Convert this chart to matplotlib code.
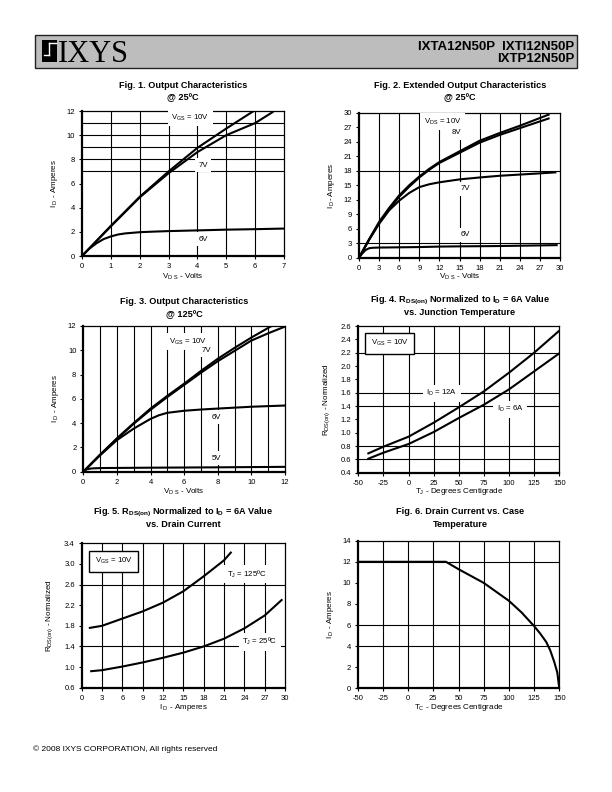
import numpy as np
import matplotlib
matplotlib.use("Agg")
import matplotlib.pyplot as plt
from matplotlib.patches import Rectangle
from matplotlib.lines import Line2D

plt.rcParams['font.family'] = ['Liberation Sans', 'DejaVu Sans']
plt.rcParams['mathtext.fontset'] = 'custom'
plt.rcParams['mathtext.rm'] = 'Liberation Sans'
plt.rcParams['mathtext.it'] = 'Liberation Sans'
plt.rcParams['mathtext.bf'] = 'Liberation Sans:bold'
plt.rcParams['mathtext.default'] = 'regular'
plt.rcParams['axes.unicode_minus'] = False

# ---- Fig 1: output characteristics @ 25C
f1_vds_10v = [0, 1, 2, 3, 4, 5, 5.95]
f1_id_10v = [0, 2.5, 4.9, 7.0, 8.95, 10.55, 12.0]
f1_vds_7v = [0, 1, 2, 3, 4, 5, 6, 6.6]
f1_id_7v = [0, 2.45, 4.85, 6.85, 8.6, 10.0, 11.0, 11.9]
f1_vds_6v = [0, 0.25, 0.5, 0.75, 1, 1.25, 1.5, 2, 2.5, 3, 4, 5, 6, 7]
f1_id_6v = [0, 0.6, 1.05, 1.4, 1.62, 1.78, 1.87, 1.97, 2.02, 2.06, 2.12, 2.18, 2.22, 2.27]

# ---- Fig 2: extended output characteristics @ 25C
f2_vds = [0, 1.5, 3, 4.5, 6, 7.5, 9, 10.5, 12, 15, 18, 21, 24, 27, 28.3]
f2_id_10v = [0, 3.8, 7.4, 10.3, 12.9, 15.0, 16.8, 18.4, 19.8, 22.0, 24.2, 25.8, 27.3, 28.9, 29.6]
f2_id_8v = [0, 3.7, 7.2, 10.1, 12.6, 14.7, 16.6, 18.2, 19.6, 21.7, 23.8, 25.4, 26.8, 28.2, 28.8]
f2_vds_7v = [0, 1.5, 3, 4.5, 6, 7.5, 9, 10.5, 12, 15, 18, 21, 24, 27, 29.3]
f2_id_7v = [0, 3.7, 7.0, 9.8, 11.8, 13.4, 14.6, 15.2, 15.6, 16.2, 16.6, 16.95, 17.2, 17.45, 17.65]
f2_vds_6v = [0, 0.5, 1, 1.5, 2, 3, 6, 9, 12, 15, 20, 25, 29.5]
f2_id_6v = [0, 0.9, 1.6, 1.95, 2.05, 2.1, 2.15, 2.2, 2.3, 2.35, 2.4, 2.5, 2.6]

# ---- Fig 3: output characteristics @ 125C
f3_vds_10v = [0, 1, 2, 3, 4, 5, 6, 7, 8, 9, 10, 11.2]
f3_id_10v = [0, 1.4, 2.75, 4.0, 5.2, 6.25, 7.25, 8.3, 9.3, 10.2, 11.05, 12.0]
f3_vds_7v = [0, 1, 2, 3, 4, 5, 6, 7, 8, 9, 10, 11, 12]
f3_id_7v = [0, 1.4, 2.7, 3.95, 5.1, 6.15, 7.15, 8.15, 9.1, 9.95, 10.8, 11.4, 11.95]
f3_vds_6v = [0, 1, 2, 3, 3.5, 4, 4.5, 5, 6, 7, 8, 10, 12]
f3_id_6v = [0, 1.35, 2.6, 3.55, 3.95, 4.35, 4.65, 4.85, 5.02, 5.12, 5.2, 5.35, 5.45]
f3_vds_5v = [0, 0.2, 0.5, 1, 4, 8, 12]
f3_id_5v = [0, 0.2, 0.27, 0.3, 0.33, 0.36, 0.4]

# ---- Fig 4: RDS(on) vs junction temperature
f4_tj = [-40, -25, 0, 25, 50, 75, 100, 125, 150]
f4_r_12a = [0.69, 0.79, 0.94, 1.15, 1.38, 1.62, 1.90, 2.20, 2.53]
f4_r_6a = [0.61, 0.70, 0.83, 1.01, 1.22, 1.42, 1.65, 1.92, 2.19]

# ---- Fig 5: RDS(on) vs drain current
f5_id_125 = [1.2, 3, 6, 9, 12, 15, 18, 21, 22]
f5_r_125 = [1.76, 1.80, 1.94, 2.08, 2.25, 2.47, 2.76, 3.07, 3.22]
f5_id_25 = [1.4, 3, 6, 9, 12, 15, 18, 21, 24, 27, 29.5]
f5_r_25 = [0.92, 0.94, 1.01, 1.09, 1.18, 1.28, 1.40, 1.55, 1.75, 2.00, 2.30]

# ---- Fig 6: drain current vs case temperature
f6_tc = [-50, 37.5, 50, 75, 100, 112.5, 125, 131, 137, 141, 145, 148, 150]
f6_id = [12, 12, 11.3, 10.0, 8.3, 7.2, 5.9, 5.2, 4.4, 3.6, 2.5, 1.5, 0]

W, H = 612, 792
fig = plt.figure(figsize=(W / 100, H / 100), dpi=100)


def fx(x):
    return x / W


def fy(y):
    return 1 - y / H


def make_axes(box, xlim, ylim, xticks, yticks, hgrid, vgrid):
    x0, y0, x1, y1 = box
    ax = fig.add_axes([fx(x0), fy(y1), (x1 - x0) / W, (y1 - y0) / H])
    ax.set_xlim(xlim)
    ax.set_ylim(ylim)
    ax.set_xticks(xticks)
    ax.set_yticks(yticks)
    for v in vgrid:
        ax.axvline(v, color='black', lw=0.8, zorder=1)
    for h in hgrid:
        ax.axhline(h, color='black', lw=0.8, zorder=1)
    ax.tick_params(direction='out', length=2.5, width=0.8, labelsize=5.5, pad=2.5)
    for s in ['left', 'bottom']:
        ax.spines[s].set_linewidth(1.6)
    for s in ['top', 'right']:
        ax.spines[s].set_linewidth(0.9)
    return ax


def labels(ax, xl, yl, xpos, ypos):
    ax.set_xlabel(xl, fontsize=5.8)
    ax.set_ylabel(yl, fontsize=5.8)
    ax.xaxis.set_label_coords(0.5, xpos)
    ax.yaxis.set_label_coords(ypos, 0.5)
    ax.xaxis.label.set_va('center')
    ax.yaxis.label.set_va('center')


def title(xc, y, lines):
    for i, t in enumerate(lines):
        fig.text(fx(xc), fy(y + i * 12.5), t, ha='center', va='center',
                 fontsize=6.6, fontweight='bold')


def tag(ax, x, y, s, boxed=False):
    if boxed:
        bb = dict(facecolor='white', edgecolor='black', lw=1.0, pad=4)
    else:
        bb = dict(facecolor='white', edgecolor='none', pad=2.5)
    ax.text(x, y, s, fontsize=5.6, ha='center', va='center', bbox=bb, zorder=3)


lw = 1.5

# Fig 1
ax1 = make_axes((82, 111, 284, 256), (0, 7), (0, 12), range(0, 8), range(0, 13, 2),
                [7, 8, 9, 10, 11], range(1, 7))
ax1.plot(f1_vds_10v, f1_id_10v, color='black', lw=lw, zorder=4)
ax1.plot(f1_vds_7v, f1_id_7v, color='black', lw=lw, zorder=4)
ax1.plot(f1_vds_6v, f1_id_6v, color='black', lw=lw, zorder=4)
tag(ax1, 3.75, 11.45, r'V$_{GS}$ = 10V')
tag(ax1, 4.2, 7.5, '7V')
tag(ax1, 4.2, 1.4, '6V')
labels(ax1, r'V$_{D\ S}$ - Volts', r'I$_{\ D}$ - Amperes', -0.145, -0.134)
title(183, 85, ['Fig. 1. Output Characteristics', '@ 25ºC'])

# Fig 2
ax2 = make_axes((359, 112.7, 560, 257.7), (0, 30), (0, 30), range(0, 31, 3), range(0, 31, 3),
                [18, 3], range(3, 30, 3))
ax2.plot(f2_vds, f2_id_10v, color='black', lw=lw, zorder=4)
ax2.plot(f2_vds, f2_id_8v, color='black', lw=lw, zorder=4)
ax2.plot(f2_vds_7v, f2_id_7v, color='black', lw=lw, zorder=4)
ax2.plot(f2_vds_6v, f2_id_6v, color='black', lw=lw, zorder=4)
tag(ax2, 12.5, 28.1, r'V$_{DS}$ = 10V')
tag(ax2, 14.6, 25.9, '8V')
tag(ax2, 15.8, 14.3, '7V')
tag(ax2, 15.8, 4.7, '6V')
labels(ax2, r'V$_{D\ S}$ - Volts', r'I$_{\ D}$- Amperes', -0.131, -0.139)
title(460, 85, ['Fig. 2. Extended Output Characteristics', '@ 25ºC'])

# Fig 3
ax3 = make_axes((83.3, 326, 285, 471.7), (0, 12), (0, 12), range(0, 13, 2), range(0, 13, 2),
                [], range(1, 12))
ax3.plot(f3_vds_10v, f3_id_10v, color='black', lw=lw, zorder=4)
ax3.plot(f3_vds_7v, f3_id_7v, color='black', lw=lw, zorder=4)
ax3.plot(f3_vds_6v, f3_id_6v, color='black', lw=lw, zorder=4)
ax3.plot(f3_vds_5v, f3_id_5v, color='black', lw=lw, zorder=4)
tag(ax3, 6.2, 10.7, r'V$_{GS}$ = 10V')
tag(ax3, 7.3, 10.0, '7V')
tag(ax3, 7.9, 4.5, '6V')
tag(ax3, 7.9, 1.1, '5V')
labels(ax3, r'V$_{D\ S}$ - Volts', r'I$_{\ D}$ - Amperes', -0.137, -0.139)
title(184, 302, ['Fig. 3. Output Characteristics', '@ 125ºC'])

# Fig 4
ax4 = make_axes((358.3, 326, 559.3, 472.7), (-50, 150), (0.4, 2.6), range(-50, 151, 25),
                np.arange(0.4, 2.61, 0.2), [2.2, 1.6, 1.4, 0.8, 0.6], range(-25, 150, 25))
ax4.yaxis.set_major_formatter(matplotlib.ticker.FormatStrFormatter('%.1f'))
ax4.plot(f4_tj, f4_r_12a, color='black', lw=lw, zorder=4)
ax4.plot(f4_tj, f4_r_6a, color='black', lw=lw, zorder=4)
tag(ax4, -19, 2.34, r'V$_{GS}$ = 10V', boxed=True)
tag(ax4, 33, 1.59, r'I$_D$ = 12A')
tag(ax4, 101, 1.35, r'I$_D$ = 6A')
labels(ax4, r'T$_J$ - Degrees Centigrade', r'R$_{DS(on)}$ - Normalized', -0.13, -0.16)
title(460, 300, [r'Fig. 4. R$_{\mathbf{DS(on)}}$ Normalized to I$_\mathbf{D}$ = 6A Value',
                 'vs. Junction Temperature'])

# Fig 5
ax5 = make_axes((81.7, 543.3, 285, 687.7), (0, 30), (0.6, 3.4), range(0, 31, 3),
                np.arange(0.6, 3.41, 0.4), [2.6, 1.4], range(3, 30, 3))
ax5.yaxis.set_major_formatter(matplotlib.ticker.FormatStrFormatter('%.1f'))
ax5.plot(f5_id_125, f5_r_125, color='black', lw=lw, zorder=4)
ax5.plot(f5_id_25, f5_r_25, color='black', lw=lw, zorder=4)
tag(ax5, 4.7, 3.05, r'V$_{GS}$ = 10V', boxed=True)
tag(ax5, 24.3, 2.8, r'T$_J$ = 125ºC')
tag(ax5, 26.3, 1.49, r'T$_J$ = 25ºC')
labels(ax5, r'I$_{\ D}$ - Amperes', r'R$_{DS(on)}$ - Normalized', -0.136, -0.158)
title(183, 512, [r'Fig. 5. R$_{\mathbf{DS(on)}}$ Normalized to I$_\mathbf{D}$ = 6A Value',
                 'vs. Drain Current'])

# Fig 6
ax6 = make_axes((357.7, 540.7, 559.3, 688.3), (-50, 150), (0, 14), range(-50, 151, 25),
                range(0, 15, 2), [12, 6, 4], range(-25, 150, 25))
ax6.plot(f6_tc, f6_id, color='black', lw=lw, zorder=4)
labels(ax6, r'T$_C$ - Degrees Centigrade', r'I$_{\ D}$ - Amperes', -0.128, -0.137)
title(460, 512, ['Fig. 6. Drain Current vs. Case', 'Temperature'])

# header band
fig.add_artist(Rectangle((fx(35), fy(68)), (577 - 35) / W, 33 / H, transform=fig.transFigure,
                         facecolor='#bdbdbd', edgecolor='#222222', lw=1.0))
fig.add_artist(Rectangle((fx(42), fy(61.5)), 15 / W, 21.5 / H, transform=fig.transFigure,
                         facecolor='black', edgecolor='none'))
for (xa, ya, xb, yb) in [(49, 43, 49, 55), (44, 55, 49, 55), (49, 43, 55.5, 43)]:
    fig.add_artist(Line2D([fx(xa), fx(xb)], [fy(ya), fy(yb)], transform=fig.transFigure,
                          color='white', lw=1.0))
fig.text(fx(58), fy(62), 'IXYS', fontsize=22, family='Liberation Serif', va='baseline', ha='left')
fig.text(fx(574), fy(46.5), 'IXTA12N50P  IXTI12N50P', fontsize=9.5, fontweight='bold',
         ha='right', va='center')
fig.text(fx(574), fy(58.5), 'IXTP12N50P', fontsize=9.5, fontweight='bold', ha='right', va='center')

fig.text(fx(33), fy(749), '© 2008 IXYS CORPORATION, All rights reserved', fontsize=6,
         ha='left', va='center')

fig.savefig('out.png', dpi=100)
